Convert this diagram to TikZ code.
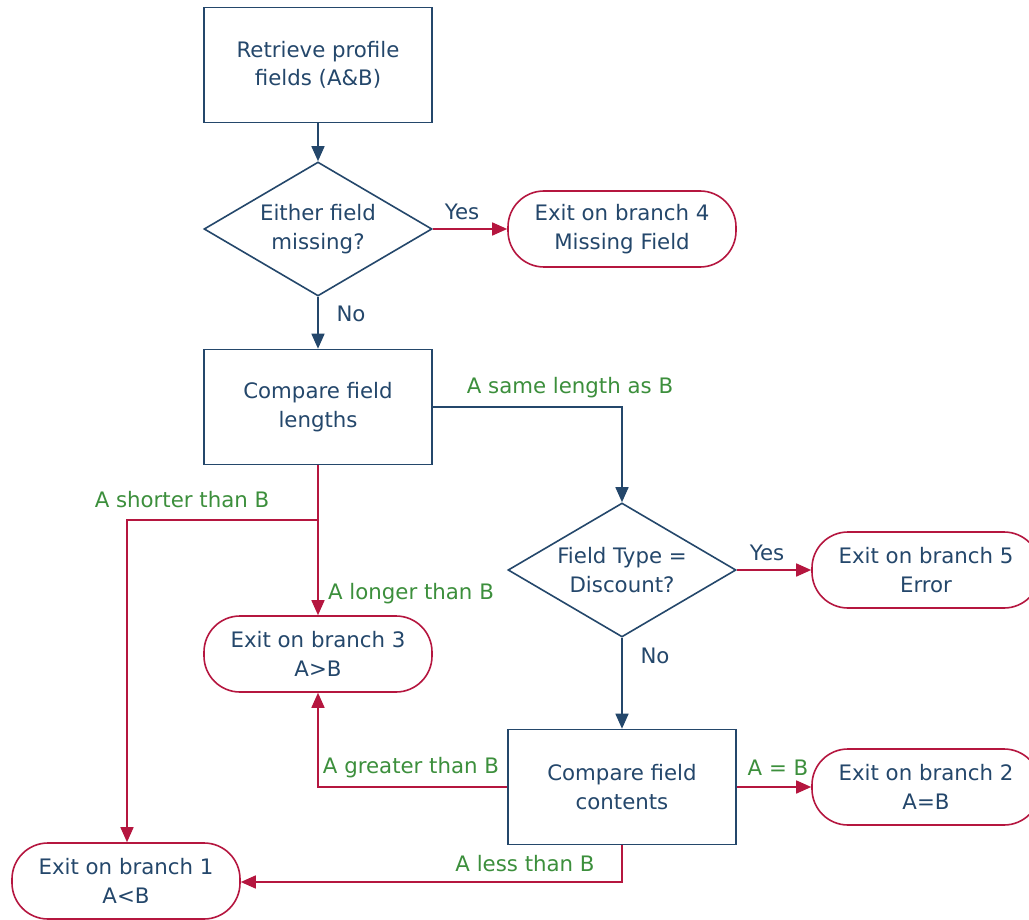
\documentclass[tikz,border=0pt]{standalone}
\usepackage{fontspec}
\setmainfont{DejaVu Sans}
\usetikzlibrary{shapes.geometric,arrows.meta}
\definecolor{navy}{HTML}{24476B}
\definecolor{exred}{HTML}{B5163F}
\definecolor{lblgreen}{HTML}{3C8F3C}
\begin{document}
\begin{tikzpicture}[x=1pt,y=-1pt,
  every node/.style={font=\fontsize{21.3}{28.5}\selectfont, text=navy, align=center},
  procbox/.style={draw=navy, line width=1.6pt, minimum width=228pt, minimum height=115pt, inner sep=0pt},
  decide/.style={draw=navy, line width=1.6pt, diamond, minimum width=228pt, minimum height=134pt, inner sep=0pt, aspect=1.7},
  term/.style={draw=exred, line width=1.6pt, rounded corners=36pt, minimum width=228pt, minimum height=76pt, inner sep=0pt},
  navyarrow/.style={draw=navy, line width=1.6pt, -{Triangle[length=15pt,width=13pt]}},
  redarrow/.style={draw=exred, line width=1.6pt, -{Triangle[length=15pt,width=13pt]}},
  glabel/.style={text=lblgreen},
  nlabel/.style={text=navy}]
\useasboundingbox (0,0) rectangle (1029,920);
\fill[white] (0,0) rectangle (1029,920);
% nodes
\node[procbox] (retrieve) at (318,65) {Retrieve profile\\fields (A\&B)};
\node[decide] (missing) at (318,229) {Either field\\missing?};
\node[term] (exit4) at (622,229) {Exit on branch 4\\Missing Field};
\node[procbox] (lengths) at (318,407) {Compare field\\lengths};
\node[decide] (discount) at (622,570) {Field Type =\\Discount?};
\node[term] (exit5) at (926,570) {Exit on branch 5\\Error};
\node[term] (exit3) at (318,654) {Exit on branch 3\\A>B};
\node[procbox] (contents) at (622,787) {Compare field\\contents};
\node[term] (exit2) at (926,787) {Exit on branch 2\\A=B};
\node[term] (exit1) at (126,881) {Exit on branch 1\\A<B};
% helper coordinates
\coordinate (samecorner) at (622,407);
\coordinate (split) at (318,520);
\coordinate (shortcorner) at (127,520);
\coordinate (greatcorner) at (318,787);
\coordinate (lesscorner) at (622,882);
% connectors
\draw[navyarrow] (retrieve.south) -- (missing.north);
\draw[redarrow] (missing.east) -- (exit4.west);
\draw[navyarrow] (missing.south) -- (lengths.north);
\draw[navyarrow] (lengths.east) -- (samecorner) -- (discount.north);
\draw[redarrow] (lengths.south) -- (exit3.north);
\draw[redarrow] (split) -- (shortcorner) -- (exit1.north -| shortcorner);
\draw[redarrow] (discount.east) -- (exit5.west);
\draw[navyarrow] (discount.south) -- (contents.north);
\draw[redarrow] (contents.east) -- (exit2.west);
\draw[redarrow] (contents.west) -- (greatcorner) -- (exit3.south);
\draw[redarrow] (contents.south) -- (lesscorner) -- (exit1.east |- lesscorner);
% labels
\node[nlabel] (yes1) at (462,212) {Yes};
\node[nlabel] (no1) at (351,314) {No};
\node[glabel] (same) at (570,388) {A same length as B};
\node[glabel] (shorter) at (182,500) {A shorter than B};
\node[glabel] (longer) at (411,594) {A longer than B};
\node[nlabel] (yes2) at (767,553) {Yes};
\node[nlabel] (no2) at (655,656) {No};
\node[glabel] (equal) at (778,768) {A = B};
\node[glabel] (greater) at (411,768) {A greater than B};
\node[glabel] (less) at (525,864) {A less than B};
\end{tikzpicture}
\end{document}
